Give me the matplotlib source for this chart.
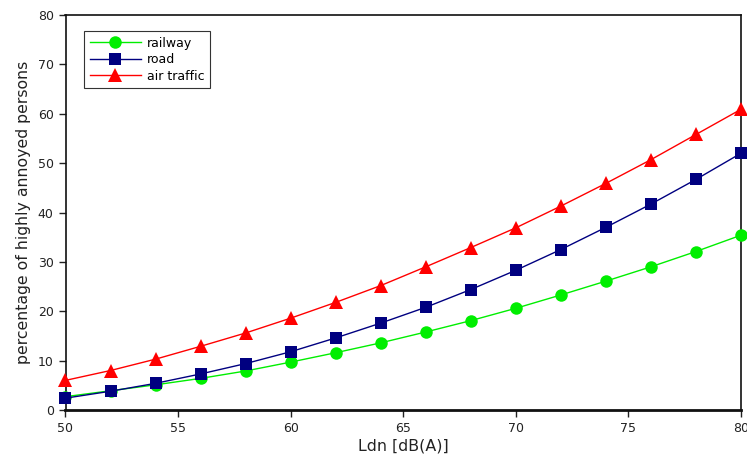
import matplotlib
matplotlib.use("Agg")
import matplotlib.pyplot as plt

# Day-evening-night level (dB(A)) and share of highly annoyed persons (%)
ldn = [50, 52, 54, 56, 58, 60, 62, 64, 66, 68, 70, 72, 74, 76, 78, 80]
railway = [2.7, 3.9, 5.1, 6.4, 7.9, 9.7, 11.6, 13.6, 15.8, 18.1, 20.6, 23.3, 26.1, 29.0, 32.1, 35.4]
road = [2.4, 3.8, 5.4, 7.3, 9.4, 11.8, 14.6, 17.6, 20.8, 24.4, 28.3, 32.5, 37.0, 41.7, 46.7, 52.0]
air_traffic = [6.0, 8.0, 10.3, 12.9, 15.6, 18.6, 21.8, 25.2, 29.0, 32.9, 36.9, 41.3, 45.9, 50.7, 55.8, 60.9]

x_ticks = [50, 55, 60, 65, 70, 75, 80]
y_ticks = [0, 10, 20, 30, 40, 50, 60, 70, 80]

fig = plt.figure(figsize=(7.47, 4.57), dpi=100)
ax = fig.add_axes([65.5 / 747, 47 / 457, (741 - 65.5) / 747, (410 - 15) / 457])

common = dict(linewidth=1.0, markeredgewidth=0, clip_on=False)
ax.plot(ldn, railway, color="#00ee00", marker="o", markersize=9, label="railway", zorder=3, **common)
ax.plot(ldn, road, color="#000080", marker="s", markersize=8.8, label="road", zorder=4, **common)
ax.plot(ldn, air_traffic, color="#ff0000", marker="^", markersize=9.4, label="air traffic", zorder=5, **common)

ax.set_xlim(50, 80)
ax.set_ylim(0, 80)
ax.set_xticks(x_ticks)
ax.set_yticks(y_ticks)
ax.tick_params(axis="both", direction="out", labelsize=9, length=5, width=1, colors="#222222", labelcolor="#222222")
ax.tick_params(top=False, right=False)

for side in ("top", "right", "left"):
    ax.spines[side].set_linewidth(1.2)
    ax.spines[side].set_color("#111111")
ax.spines["bottom"].set_linewidth(2.0)
ax.spines["bottom"].set_color("#111111")

ax.set_xlabel("Ldn [dB(A)]", fontsize=11.4, color="#222222", labelpad=3)
ax.set_ylabel("percentage of highly annoyed persons", fontsize=11.3, color="#222222", labelpad=5)

leg = ax.legend(loc="upper left", bbox_to_anchor=((84 - 65.5) / 675.5, (410 - 31) / 395),
                borderaxespad=0, fontsize=9,
                fancybox=False, framealpha=1, edgecolor="#333333",
                handlelength=4.1, borderpad=0.45, labelspacing=0.28, handletextpad=0.5)
leg.get_frame().set_linewidth(0.8)

fig.savefig("out.png", dpi=100)
